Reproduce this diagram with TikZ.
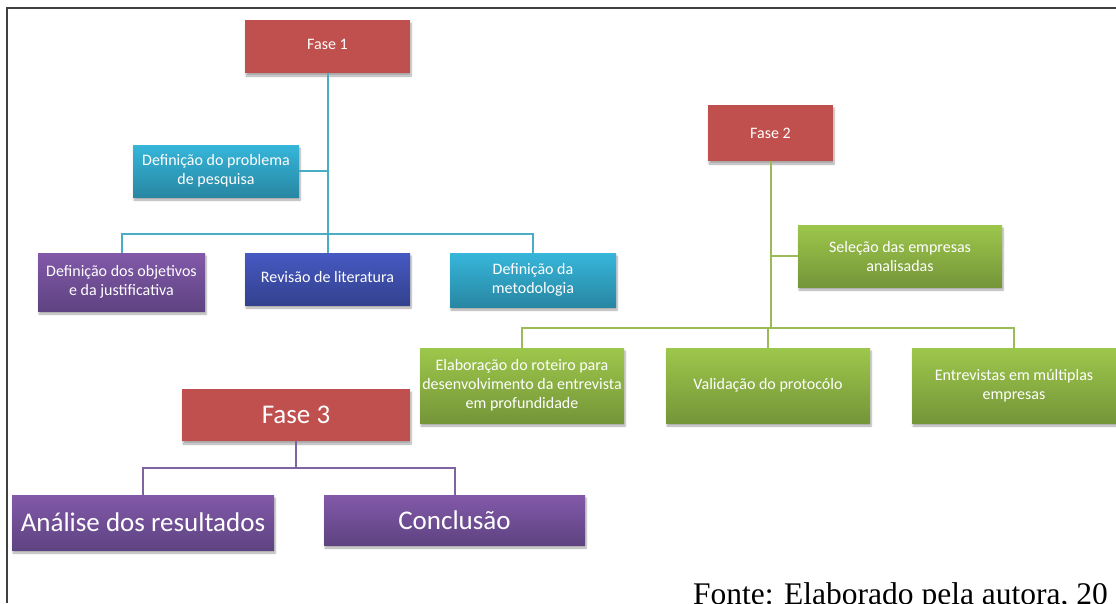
\documentclass[tikz,border=0pt]{standalone}
\usepackage{fontspec}
\setmainfont{Carlito}
\newfontfamily\timesfont{Liberation Serif}
\usetikzlibrary{shadows.blur}
\definecolor{redb}{HTML}{C0504D}
\definecolor{cyant}{HTML}{36B6DA}
\definecolor{cyanb}{HTML}{2887A3}
\definecolor{purt}{HTML}{8259A9}
\definecolor{purb}{HTML}{5E4381}
\definecolor{blut}{HTML}{4659C2}
\definecolor{blub}{HTML}{33418E}
\definecolor{grnt}{HTML}{9DC74B}
\definecolor{grnb}{HTML}{759539}
\definecolor{cyanl}{HTML}{4BACC6}
\definecolor{grnl}{HTML}{9BBB59}
\definecolor{purl}{HTML}{8064A2}
\tikzset{
  box/.style={rectangle, inner sep=1pt, align=center, text=white,
    font=\fontsize{16}{19}\selectfont,
    blur shadow={shadow xshift=1pt, shadow yshift=-3pt, shadow opacity=35, shadow blur steps=6}},
  bigbox/.style={box, font=\fontsize{27}{31}\selectfont},
  redbox/.style={fill=redb},
  cyanbox/.style={top color=cyant, bottom color=cyanb},
  purbox/.style={top color=purt, bottom color=purb},
  blubox/.style={top color=blut, bottom color=blub},
  grnbox/.style={top color=grnt, bottom color=grnb},
  link/.style={line width=2pt},
}
\begin{document}
\begin{tikzpicture}[x=1pt,y=-1pt]
\useasboundingbox (0,0) rectangle (1116,603);
% frame
\draw[line width=1.4pt, black!75] (7,603) -- (7,8) -- (1116,8);

% Fase 1 group
\node[box, redbox, minimum width=165pt, minimum height=53pt] (f1) at (327.5,46.5) {\raisebox{4pt}{Fase 1}};
\node[box, cyanbox, minimum width=166pt, minimum height=52pt] (prob) at (216,171) {Definição do problema\\de pesquisa};
\node[box, purbox, minimum width=167pt, minimum height=58pt] (obj) at (121.5,282) {\raisebox{3pt}{\begin{tabular}{@{}c@{}}Definição dos objetivos\\e da justificativa\end{tabular}}};
\node[box, blubox, minimum width=165pt, minimum height=52pt] (rev) at (327.5,279) {\raisebox{5pt}{Revisão de literatura}};
\node[box, cyanbox, minimum width=166pt, minimum height=54pt] (met) at (533,280) {\raisebox{5pt}{\begin{tabular}{@{}c@{}}Definição da\\metodologia\end{tabular}}};
\coordinate (b1) at (327.5,234);
\draw[link, cyanl] (f1.south) -- (rev.north);
\draw[link, cyanl] (prob.east) -- (prob.east -| f1.south);
\draw[link, cyanl] (obj.north) |- (b1) -| (met.north);

% Fase 2 group
\node[box, redbox, minimum width=125pt, minimum height=56pt] (f2) at (770.5,133) {Fase 2};
\node[box, grnbox, minimum width=204pt, minimum height=62pt] (sel) at (900,256) {Seleção das empresas\\analisadas};
\node[box, grnbox, minimum width=204pt, minimum height=75pt] (elab) at (522,385.5) {Elaboração do roteiro para\\desenvolvimento da entrevista\\em profundidade};
\node[box, grnbox, minimum width=204pt, minimum height=75pt] (val) at (768,385.5) {Validação do protocólo};
\node[box, grnbox, minimum width=204pt, minimum height=75pt] (ent) at (1014,385.5) {Entrevistas em múltiplas\\empresas};
\coordinate (b2) at (770.5,328);
\draw[link, grnl] (f2.south) -- (b2);
\draw[link, grnl] (sel.west) -- (sel.west -| f2.south);
\draw[link, grnl] (elab.north) |- (b2) -| (ent.north);
\draw[link, grnl] (val.north) -- (val.north |- b2);

% Fase 3 group
\node[bigbox, redbox, minimum width=228pt, minimum height=52pt] (f3) at (296,415) {Fase 3};
\node[bigbox, purbox, minimum width=262pt, minimum height=55pt] (an) at (143,522.5) {Análise dos resultados};
\node[bigbox, purbox, minimum width=261pt, minimum height=50pt] (con) at (454.5,520) {Conclusão};
\coordinate (b3) at (296,468);
\draw[link, purl] (f3.south) -- (b3);
\draw[link, purl] (an.north) |- (b3) -| (con.north);

% source
\node[anchor=base west, inner sep=0pt, font=\timesfont\fontsize{31.5}{36}\selectfont] (src) at (693,604) {Fonte: Elaborado pela autora, 20};
\end{tikzpicture}
\end{document}
